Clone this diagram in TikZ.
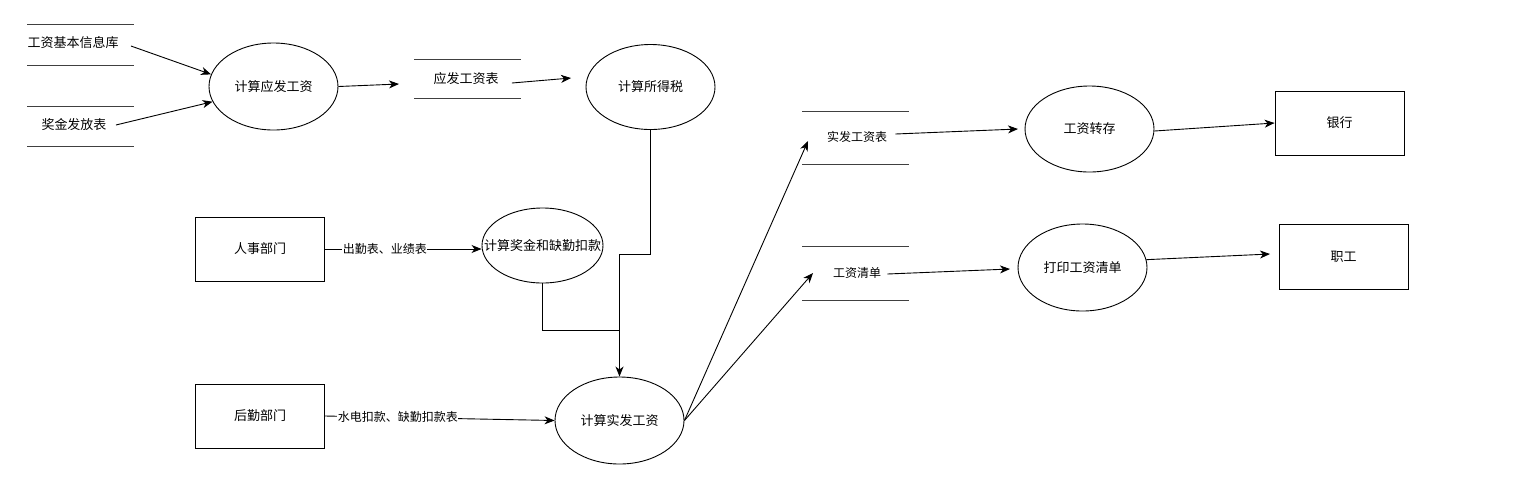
\documentclass[tikz,border=0pt]{standalone}
\usepackage{fontspec}
\setmainfont{Noto Sans CJK SC}
\usetikzlibrary{arrows.meta,shapes.geometric}
\begin{document}
\begin{tikzpicture}[x=1pt,y=-1pt,
  line width=0.9pt,
  big/.style={font=\fontsize{13}{15}\selectfont},
  small/.style={font=\fontsize{12}{14}\selectfont},
  proc/.style={draw, ellipse, inner sep=0pt, big, minimum width=129pt, minimum height=86pt},
  ent/.style={draw, rectangle, inner sep=0pt, big, minimum width=129pt, minimum height=64pt},
  storetxt/.style={inner sep=0pt, big},
  storeline/.style={draw, line width=1pt, black!75},
  flow/.style={-{Stealth[length=10pt,width=8pt,inset=3pt]}},
  elbl/.style={fill=white, inner sep=0.5pt, small},
]
\useasboundingbox (0,0) rectangle (1539,491);

% data stores
\node[storetxt] (s1) at (73,43) {工资基本信息库};
\draw[storeline] (27,24) -- (134,24) (27,65) -- (134,65);
\node[storetxt] (s2) at (74,125) {奖金发放表};
\draw[storeline] (27,106) -- (134,106) (27,146) -- (134,146);
\node[storetxt] (s3) at (466,79) {应发工资表};
\draw[storeline] (414,59) -- (521,59) (414,98) -- (521,98);
\node[storetxt, small] (s4) at (857,137) {实发工资表};
\draw[storeline] (802,111) -- (909,111) (802,164) -- (909,164);
\node[storetxt, small] (s5) at (857,273) {工资清单};
\draw[storeline] (802,246) -- (909,246) (802,300) -- (909,300);

% processes
\node[proc, minimum height=87pt] (e1) at (273.5,86.5) {计算应发工资};
\node[proc, minimum height=85pt] (e2) at (650.5,87) {计算所得税};
\node[proc, minimum width=121pt, minimum height=75pt] (e3) at (542.5,245.5) {};
\node[big, inner sep=0pt] (e3t) at (e3) {计算奖金和缺勤扣款};
\node[proc, minimum height=87pt] (e4) at (619.5,420.5) {计算实发工资};
\node[proc] (e5) at (1089.5,129) {工资转存};
\node[proc, minimum height=87pt] (e6) at (1082.5,267.5) {打印工资清单};

% entities
\node[ent] (r1) at (260,249) {人事部门};
\node[ent] (r2) at (260,416) {后勤部门};
\node[ent] (bank) at (1339.5,123) {银行};
\node[ent, minimum height=65pt] (staff) at (1343.5,256.5) {职工};

% free ends
\coordinate (t3) at (399,84);
\coordinate (t4) at (571,78);
\coordinate (t9) at (808,141);
\coordinate (t10) at (813,273);
\coordinate (t11) at (1018,129);
\coordinate (t13) at (1010,269);
\coordinate (t14) at (1270,254);

% flows
\draw[flow] ([shift={(12,3)}]s1.east) -- (e1.169);
\draw[flow] ([xshift=9pt]s2.east) -- (e1.194);
\draw[flow] (e1.east) -- (t3);
\draw[flow] ([shift={(13,4)}]s3.east) -- (t4);
\draw[flow] (e2.south) -- (e2.south |- 0,254) -| (e4.north);
\draw (e3.south) |- (e4.north |- 0,330);
\draw[flow] (r1.east) -- node[elbl, pos=0.383] (l1) {出勤表、业绩表} (r1.east -| e3.west);
\draw[flow] (r2.east) -- node[elbl, pos=0.318] (l2) {水电扣款、缺勤扣款表} (e4.west);
\draw[flow] (e4.east) -- (t9);
\draw[flow] (e4.east) -- (t10);
\draw[flow] ([shift={(8,-3)}]s4.east) -- (t11);
\draw[flow] ([yshift=-2pt]e5.east) -- (bank.west);
\draw[flow] ([shift={(6,1)}]s5.east) -- (t13);
\draw[flow] (e6.7) -- (t14);
\end{tikzpicture}
\end{document}
